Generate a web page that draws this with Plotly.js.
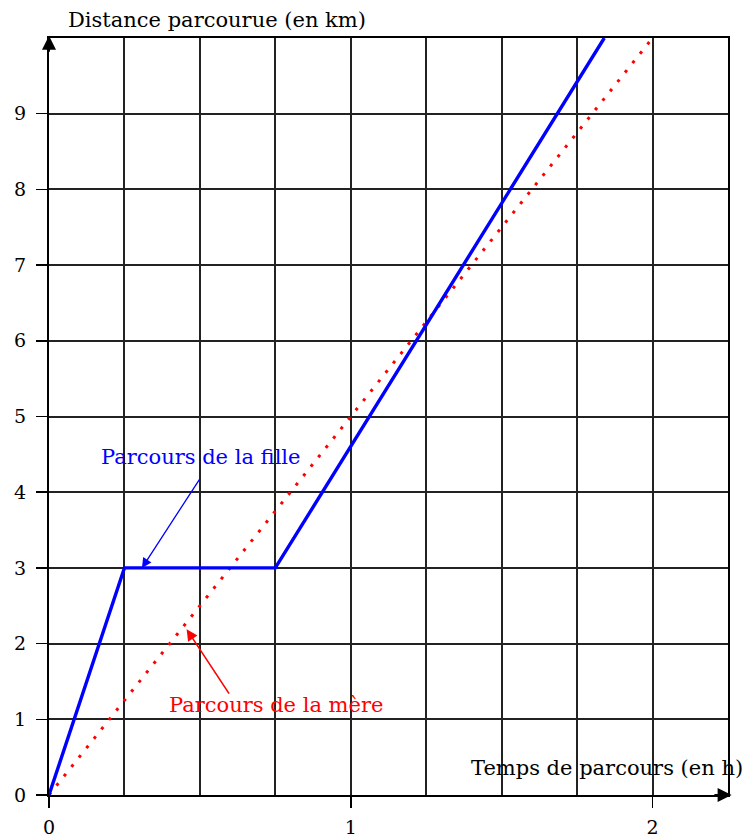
<!DOCTYPE html>
<html>
<head>
<meta charset="utf-8">
<script src="https://cdn.plot.ly/plotly-3.0.1.min.js"></script>
<style>html,body{margin:0;padding:0;background:#fff;}</style>
</head>
<body>
<div id="chart" style="width:748px;height:839px;"></div>
<script>
// Data
const timeFille = [0, 0.25, 0.75, 1.84];
const distFille = [0, 3, 3, 10];
const timeMere = [0, 2];
const distMere = [0, 10];
const xTickVals = [0, 1, 2];
const xTickText = ['0', '1', '2'];
const yTickVals = [0, 1, 2, 3, 4, 5, 6, 7, 8, 9];
const yTickText = ['0', '1', '2', '3', '4', '5', '6', '7', '8', '9'];
const xTitle = 'Temps de parcours (en h)';
const yTitle = 'Distance parcourue (en km)';
const labelFille = 'Parcours de la fille';
const labelMere = 'Parcours de la mère';

const FONT = 'DejaVu Serif, Liberation Serif, serif';
const BLUE = '#0000ff';
const RED = '#ff0000';
const GRID = '#222';

const traces = [
  {x: timeMere, y: distMere, mode: 'lines', line: {color: RED, width: 3, dash: '3px,9px'}, hoverinfo: 'skip'},
  {x: timeFille, y: distFille, mode: 'lines', line: {color: BLUE, width: 3.4}, hoverinfo: 'skip'}
];

const layout = {
  width: 748, height: 839,
  margin: {l: 49, r: 20, t: 38, b: 44},
  paper_bgcolor: '#fff', plot_bgcolor: '#fff',
  showlegend: false,
  font: {family: FONT, size: 20, color: '#000'},
  xaxis: {
    range: [0, 2.25], fixedrange: true,
    tickvals: xTickVals, ticktext: xTickText,
    ticks: 'outside', ticklen: 11, tickwidth: 1.5, tickcolor: '#000',
    ticklabelstandoff: 3,
    showgrid: true, gridcolor: GRID, gridwidth: 2,
    minor: {tick0: 0, dtick: 0.25, showgrid: true, gridcolor: GRID, gridwidth: 2, ticks: ''},
    showline: true, linecolor: '#000', linewidth: 2, mirror: true,
    zeroline: false,
    tickfont: {family: FONT, size: 19, color: '#000'}
  },
  yaxis: {
    range: [0, 10], fixedrange: true,
    tickvals: yTickVals, ticktext: yTickText,
    ticks: 'outside', ticklen: 11, tickwidth: 1.5, tickcolor: '#000',
    ticklabelstandoff: 6,
    showgrid: true, gridcolor: GRID, gridwidth: 2,
    showline: true, linecolor: '#000', linewidth: 2, mirror: true,
    zeroline: false,
    tickfont: {family: FONT, size: 19, color: '#000'}
  },
  annotations: [
    {xref: 'paper', yref: 'paper', x: 0.247, y: 1.024, text: yTitle, showarrow: false,
     font: {family: FONT, size: 21, color: '#000'}, xanchor: 'center', yanchor: 'middle'},
    {xref: 'x', yref: 'y', x: 1.849, y: 0.36, text: xTitle, showarrow: false,
     font: {family: FONT, size: 21, color: '#000'}, xanchor: 'center', yanchor: 'middle'},
    {xref: 'x', yref: 'y', x: 0.505, y: 4.47, text: labelFille, showarrow: false,
     font: {family: FONT, size: 21, color: BLUE}, xanchor: 'center', yanchor: 'middle'},
    {xref: 'x', yref: 'y', x: 0.752, y: 1.19, text: labelMere, showarrow: false,
     font: {family: FONT, size: 21, color: RED}, xanchor: 'center', yanchor: 'middle'},
    // annotation arrows
    {xref: 'x', yref: 'y', axref: 'x', ayref: 'y', x: 0.308, y: 3.0, ax: 0.502, ay: 4.19,
     text: '', showarrow: true, arrowhead: 2, arrowsize: 1.5, arrowwidth: 1.3, arrowcolor: BLUE, standoff: 0},
    {xref: 'x', yref: 'y', axref: 'x', ayref: 'y', x: 0.456, y: 2.19, ax: 0.6, ay: 1.32,
     text: '', showarrow: true, arrowhead: 2, arrowsize: 1.4, arrowwidth: 1.6, arrowcolor: RED, standoff: 0},
    // axis arrows
    {xref: 'x', yref: 'y', axref: 'x', ayref: 'y', x: 2.262, y: 0, ax: 2.2, ay: 0,
     text: '', showarrow: true, arrowhead: 2, arrowsize: 1.4, arrowwidth: 2, arrowcolor: '#000', standoff: 0},
    {xref: 'x', yref: 'y', axref: 'x', ayref: 'y', x: 0, y: 10.03, ax: 0, ay: 9.8,
     text: '', showarrow: true, arrowhead: 2, arrowsize: 1.4, arrowwidth: 2, arrowcolor: '#000', standoff: 0}
  ]
};

Plotly.newPlot('chart', traces, layout, {displayModeBar: false, staticPlot: true});
</script>
</body>
</html>
